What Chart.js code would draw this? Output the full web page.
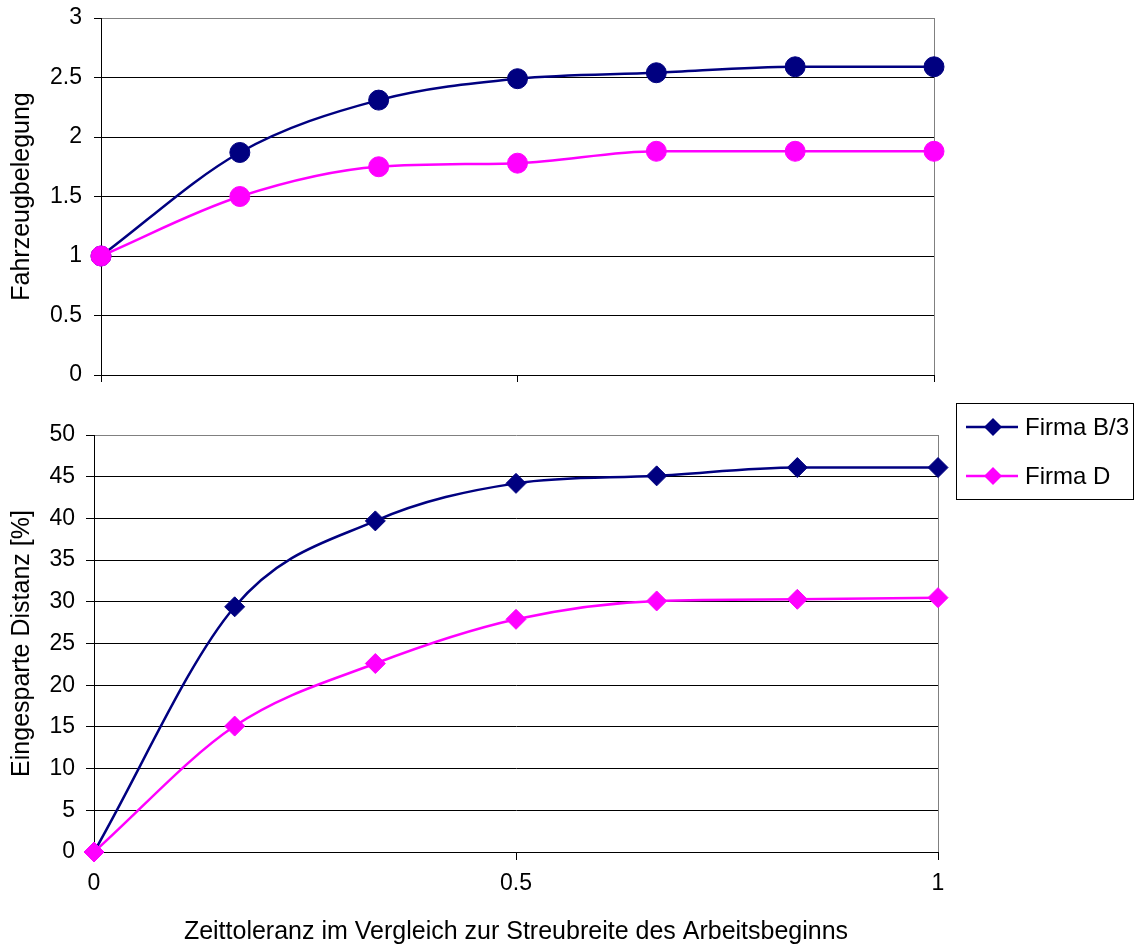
<!DOCTYPE html>
<html>
<head>
<meta charset="utf-8">
<script src="https://cdn.jsdelivr.net/npm/chart.js@4.4.1/dist/chart.umd.min.js"></script>
<style>
  html, body { margin: 0; padding: 0; background: #fff; }
  #top { position: absolute; left: 0; top: 0; width: 1136px; height: 400px; }
  #bottom { position: absolute; left: 0; top: 400px; width: 1136px; height: 547px; }
</style>
</head>
<body>
<div id="top"><canvas id="chartTop"></canvas></div>
<div id="bottom"><canvas id="chartBottom"></canvas></div>
<script>
// x = Zeittoleranz relativ zur Streubreite
var xVals = [0, 1/6, 2/6, 3/6, 4/6, 5/6, 1]
var seriesNames = ['Firma B/3', 'Firma D']

// oben: Fahrzeugbelegung
var belegungB3 = [1, 1.87, 2.31, 2.49, 2.54, 2.59, 2.59]
var belegungD = [1, 1.50, 1.75, 1.78, 1.88, 1.88, 1.88]

// unten: eingesparte Distanz in %
var distanzB3 = [0, 29.4, 39.7, 44.2, 45.1, 46.1, 46.1]
var distanzD = [0, 15.1, 22.6, 27.9, 30.1, 30.3, 30.5]

var xTicks = [0, 0.5, 1]
var navy = '#000080'
var pink = '#FF00FF'
var fontFam = '"Liberation Sans", Arial, sans-serif'

Chart.defaults.font.family = fontFam
Chart.defaults.color = '#000'

function pts(vals){
    return vals.map(function(v, i){ return {x: xVals[i], y: v} })
}

function plainNum(v){ return String(Math.round(v * 100) / 100) }

function makeDataset(label, vals, color, style, order){
    return {
        label: label,
        data: pts(vals),
        borderColor: color,
        backgroundColor: color,
        borderWidth: 2.5,
        pointStyle: style,
        pointRadius: 10,
        pointHoverRadius: 10,
        pointBorderWidth: 1,
        pointBorderColor: color,
        pointBackgroundColor: color,
        cubicInterpolationMode: 'monotone',
        clip: false,
        order: order
    }
}

function xScale(showLabels, tickLen, height, withTitle){
    return {
        type: 'linear',
        min: 0,
        max: 1,
        afterBuildTicks: function(s){ s.ticks = xTicks.map(function(v){ return {value: v} }) },
        ticks: { display: showLabels, font: {size: 23}, padding: 10, maxRotation: 0, callback: plainNum },
        grid: {
            drawOnChartArea: true,
            color: function(c){ return (c.tick && c.tick.value === 1) ? '#808080' : 'rgba(0,0,0,0)' },
            tickColor: '#000',
            tickLength: tickLen,
            lineWidth: 1
        },
        border: { color: '#000', width: 1 },
        title: {
            display: withTitle,
            text: 'Zeittoleranz im Vergleich zur Streubreite des Arbeitsbeginns',
            font: {size: 25},
            padding: {top: 0, bottom: 0}
        },
        afterFit: function(s){ s.height = height }
    }
}

function yScale(max, step, title, width, tickLen, pad){
    return {
        min: 0,
        max: max,
        ticks: { stepSize: step, font: {size: 23}, padding: pad, callback: plainNum },
        grid: {
            color: function(c){ return (c.tick && c.tick.value === max) ? '#808080' : '#000' },
            tickColor: '#000',
            tickLength: tickLen,
            lineWidth: 1
        },
        border: { color: '#000', width: 1 },
        title: { display: true, text: title, font: {size: 25}, padding: {top: 7, bottom: 0} },
        afterFit: function(s){
            s.width = width
            s.paddingTop = 0
            s.paddingBottom = 0
        }
    }
}

// Legende mit Rahmen, rechts neben dem unteren Diagramm
var boxLegend = {
    id: 'boxLegend',
    afterDraw: function(chart){
        var ctx = chart.ctx
        ctx.save()
        ctx.strokeStyle = '#000'
        ctx.lineWidth = 1
        ctx.strokeRect(956.5, 3.5, 177, 96)
        var rowY = [27, 76]
        chart.data.datasets.forEach(function(ds, i){
            var y = rowY[i]
            ctx.strokeStyle = ds.borderColor
            ctx.lineWidth = 2.5
            ctx.beginPath()
            ctx.moveTo(966, y)
            ctx.lineTo(1018, y)
            ctx.stroke()
            ctx.fillStyle = ds.borderColor
            ctx.beginPath()
            ctx.moveTo(993, y - 9)
            ctx.lineTo(1002, y)
            ctx.lineTo(993, y + 9)
            ctx.lineTo(984, y)
            ctx.closePath()
            ctx.fill()
            ctx.fillStyle = '#000'
            ctx.font = '24px ' + fontFam
            ctx.textBaseline = 'middle'
            ctx.textAlign = 'left'
            ctx.fillText(ds.label, 1025, y + 1)
        })
        ctx.restore()
    }
}

var common = {
    responsive: true,
    maintainAspectRatio: false,
    animation: false,
    plugins: { legend: {display: false}, tooltip: {enabled: false} }
}

new Chart(document.getElementById('chartTop').getContext('2d'), {
    type: 'line',
    data: {
        datasets: [
            makeDataset(seriesNames[0], belegungB3, navy, 'circle', 1),
            makeDataset(seriesNames[1], belegungD, pink, 'circle', 0)
        ]
    },
    options: Object.assign({}, common, {
        layout: { padding: {top: 18, right: 202, left: 0, bottom: 0} },
        scales: {
            x: xScale(false, 7, 25, false),
            y: yScale(3, 0.5, 'Fahrzeugbelegung', 101, 7, 12)
        }
    })
})

new Chart(document.getElementById('chartBottom').getContext('2d'), {
    type: 'line',
    data: {
        datasets: [
            makeDataset(seriesNames[0], distanzB3, navy, 'rectRot', 1),
            makeDataset(seriesNames[1], distanzD, pink, 'rectRot', 0)
        ]
    },
    options: Object.assign({}, common, {
        layout: { padding: {top: 35, right: 198, left: 0, bottom: 0} },
        scales: {
            x: xScale(true, 8, 95, true),
            y: yScale(50, 5, 'Eingesparte Distanz [%]', 94, 8, 11)
        }
    }),
    plugins: [boxLegend]
})
</script>
</body>
</html>
